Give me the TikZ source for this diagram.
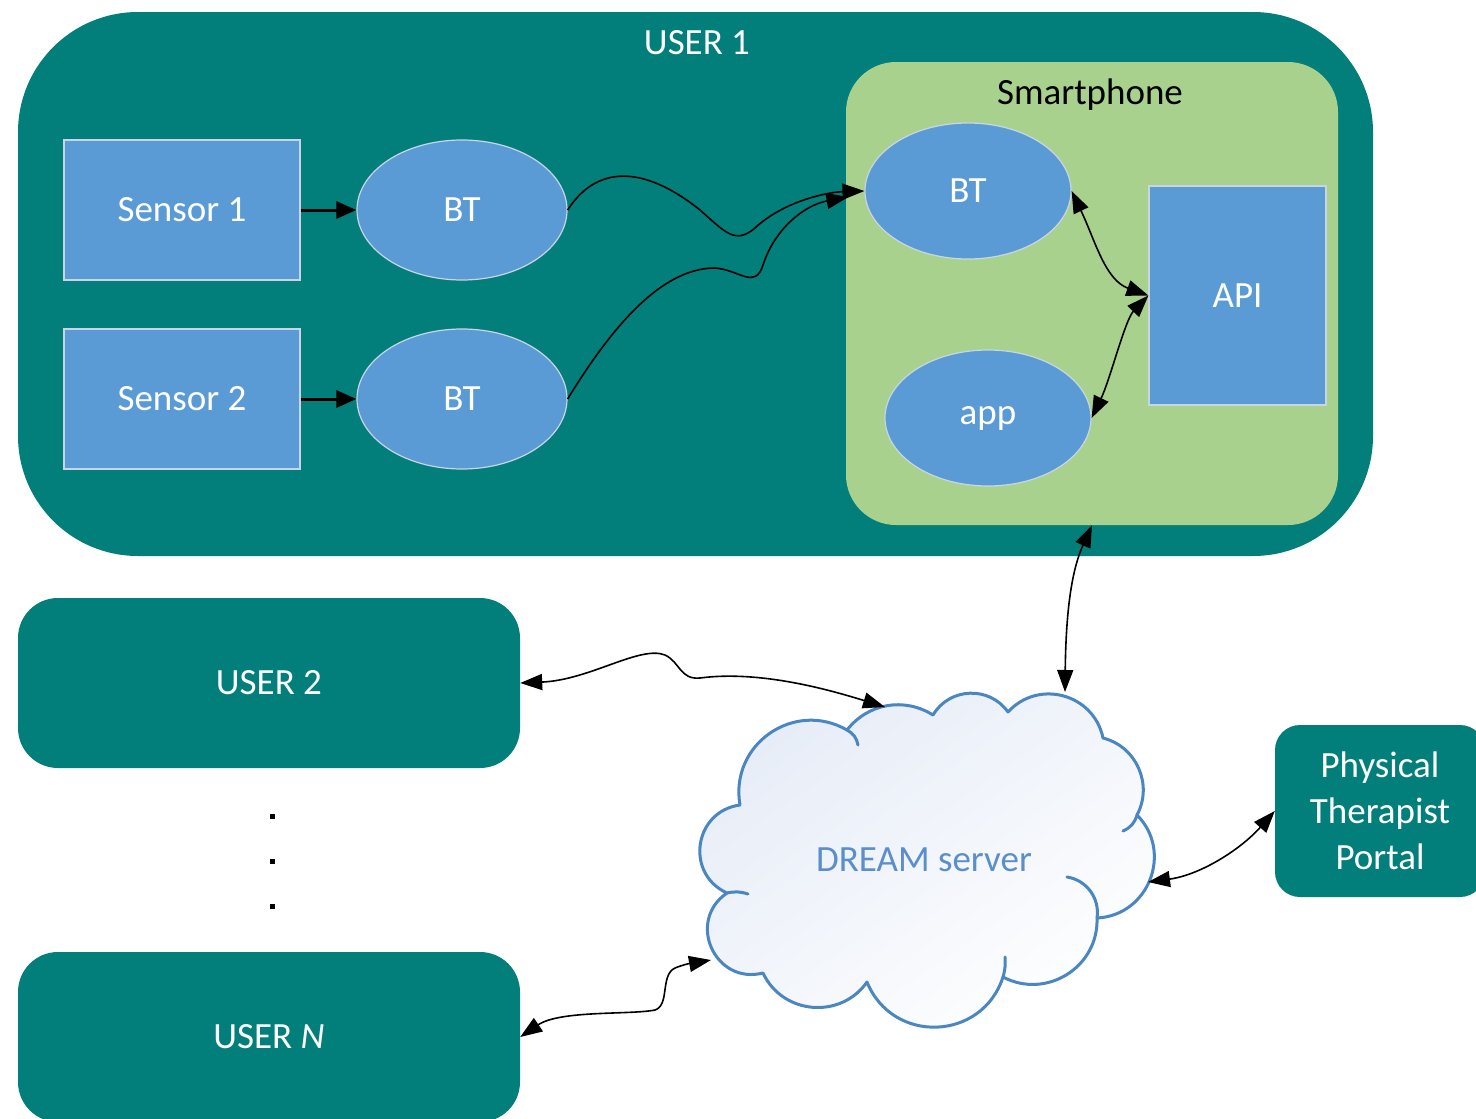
\documentclass[tikz,border=0pt]{standalone}
\usepackage{fontspec}
\setmainfont{Carlito}
\usetikzlibrary{arrows.meta,shapes.geometric}
\definecolor{teal1}{HTML}{027F7B}
\definecolor{blue1}{HTML}{5B9BD5}
\definecolor{green1}{HTML}{A9D18E}
\definecolor{edge1}{HTML}{C9D5E2}
\definecolor{cloudline}{HTML}{4A86C2}
\definecolor{cloudtext}{HTML}{5B8FCB}
\definecolor{cloudfill}{HTML}{E6ECF7}
\begin{document}
\begin{tikzpicture}[x=1pt,y=-1pt,
  every node/.style={font=\fontsize{37}{44}\selectfont, inner sep=0pt},
  tealbox/.style={rectangle, fill=teal1, text=white, rounded corners=40pt},
  bluebox/.style={rectangle, fill=blue1, draw=edge1, line width=1.2pt, text=white},
  blueell/.style={ellipse, fill=blue1, draw=edge1, line width=1.2pt, text=white},
  arr/.style={line width=1.6pt, -{Triangle[length=22pt,width=16pt]}},
  darr/.style={line width=1.6pt, {Triangle[length=22pt,width=16pt]}-{Triangle[length=22pt,width=16pt]}},
  thickarr/.style={line width=3pt, -{Triangle[length=20pt,width=17pt]}},
  dotsq/.style={rectangle, fill=black, minimum width=5pt, minimum height=5pt},
  cloudedge/.style={draw=cloudline, line width=3pt, line join=round, line cap=round}
]
\useasboundingbox (0,0) rectangle (1476,1119);
\fill[white] (0,0) rectangle (1476,1119);

% USER 1 container
\node[tealbox, rounded corners=120pt, minimum width=1355pt, minimum height=544pt] (user1) at (695.5,284) {};
\node[text=white] (user1title) at (697,43) {USER 1};

% Smartphone
\node[rectangle, fill=green1, rounded corners=50pt, minimum width=492pt, minimum height=463pt] (phone) at (1092,293.5) {};
\node[text=black] (phonetitle) at (1090,95) {Smartphone};

% Sensors
\node[bluebox, minimum width=236pt, minimum height=140pt] (s1) at (182,210) {Sensor 1};
\node[bluebox, minimum width=236pt, minimum height=140pt] (s2) at (182,399) {Sensor 2};
\node[blueell, minimum width=210pt, minimum height=140pt] (bt1) at (462,210) {BT};
\node[blueell, minimum width=210pt, minimum height=140pt] (bt2) at (462,399) {BT};

% Phone internals
\node[blueell, minimum width=206pt, minimum height=136pt] (spbt) at (968,191) {BT};
\node[blueell, minimum width=206pt, minimum height=136pt] (app) at (988,418) {app};
\node[bluebox, minimum width=177pt, minimum height=219pt] (api) at (1237.5,295.5) {API};

% Other users
\node[tealbox, minimum width=502pt, minimum height=170pt] (user2) at (269,683) {USER 2};
\node[tealbox, minimum width=502pt, minimum height=170pt] (userN) at (269,1037) {USER \textit{N}};
\node[dotsq] (d1) at (272,816) {};
\node[dotsq] (d2) at (272,861) {};
\node[dotsq] (d3) at (272,906) {};

% Portal
\node[tealbox, rounded corners=25pt, minimum width=210pt, minimum height=172pt, align=center, text=white,
      font=\fontsize{37}{46}\selectfont] (pt) at (1380,811) {Physical\\Therapist\\Portal};

% Cloud outline
\path[cloudedge, top color=cloudfill, bottom color=white, shading angle=35]
  (740,805) to[bend left=65, looseness=1.2] (847,730)
  to[bend left=42, looseness=1.0] (933,715)
  to[bend left=57, looseness=1.1] (1008,712)
  to[bend left=63, looseness=1.17] (1103,738)
  to[bend left=52, looseness=1.05] (1137,815)
  to[bend left=66, looseness=1.2] (1097,918)
  to[bend left=60, looseness=1.13] (1003,977)
  to[bend left=70, looseness=1.27] (867,982)
  to[bend left=60, looseness=1.13] (763,973)
  to[bend left=80, looseness=1.45] (727,893)
  to[bend left=74, looseness=1.34] (740,805) -- cycle;
\draw[cloudedge] (847,730) to[bend left=25] (858,745);
\draw[cloudedge] (727,893) to[bend left=15] (748,894);
\draw[cloudedge] (1137,815) to[bend left=25] (1123,831);
\draw[cloudedge] (1067,877) to[bend left=45] (1097,918);
\draw[cloudedge] (1005,957) to[bend left=10] (1003,977);
\node[text=cloudtext] (cloud) at (924,860) {DREAM server};
\coordinate (cTop) at (1065,692);
\coordinate (cUL) at (885,707);
\coordinate (cLeft) at (711,960);
\coordinate (cRight) at (1148,882);

% Connectors
\draw[thickarr] (s1.east) -- (bt1.west);
\draw[thickarr] (s2.east) -- (bt2.west);

\draw[arr] (bt1.east) .. controls (600,160) and (650,170) .. (700,210)
  .. controls (725,232) and (735,245) .. (755,228)
  .. controls (785,200) and (830,192) .. (spbt.west);
\draw[arr] (bt2.east) .. controls (610,330) and (660,268) .. (715,268)
  .. controls (740,270) and (755,290) .. (763,265)
  .. controls (775,228) and (805,205) .. ([xshift=-16pt,yshift=-6pt]spbt.west);

\draw[darr] (spbt.east) .. controls (1095,240) and (1105,280) .. (api.west);
\draw[darr] (app.east) .. controls (1110,380) and (1125,320) .. (api.west);

\draw[darr] (phone.south) .. controls (1074,565) and (1066,600) .. (cTop);
\draw[darr] (user2.east) .. controls (590,680) and (640,645) .. (665,655)
  .. controls (680,662) and (680,680) .. (700,678)
  .. controls (760,670) and (830,690) .. (cUL);
\draw[darr] (userN.east) .. controls (560,1010) and (630,1015) .. (655,1010)
  .. controls (670,1005) and (660,975) .. (675,968)
  .. controls (690,962) and (700,962) .. (cLeft);
\draw[darr] (cRight) .. controls (1200,875) and (1240,850) .. (pt.west);
\end{tikzpicture}
\end{document}
